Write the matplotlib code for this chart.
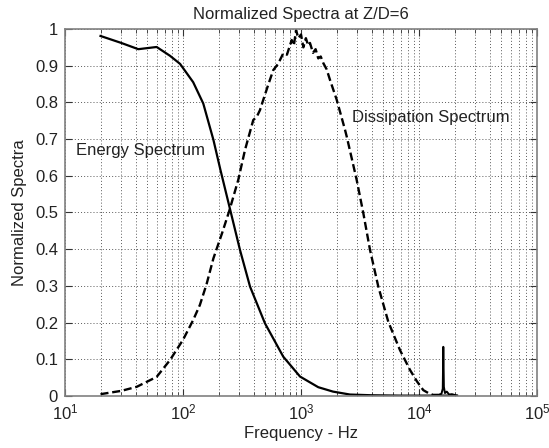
import numpy as np
import matplotlib
matplotlib.use("Agg")
import matplotlib.pyplot as plt
from matplotlib.ticker import LogLocator, FixedLocator, NullFormatter

plt.rcParams['font.family'] = ['Liberation Sans', 'DejaVu Sans']
plt.rcParams['mathtext.default'] = 'regular'

# ---- data ----
energy_f = [20, 30, 41.8, 59.8, 77.6, 94.4, 122, 148.5, 181, 208, 250, 304, 370,
            495, 708, 981, 1400, 1866, 2600, 4000, 7000, 12000, 21000]
energy_y = [0.981, 0.962, 0.945, 0.951, 0.927, 0.905, 0.855, 0.797, 0.698, 0.615,
            0.51, 0.398, 0.298, 0.198, 0.107, 0.053, 0.024, 0.012, 0.004, 0.002,
            0.001, 0.001, 0.001]

diss_f = [20, 30, 40.5, 59.8, 77.6, 100, 122, 139, 158.5, 181, 215, 247, 294, 335,
          394, 422, 449, 479, 530, 582, 640, 708, 760, 834, 870, 908, 950, 1000,
          1047, 1100, 1150, 1191, 1264, 1330, 1400, 1470, 1546, 1650, 1762, 2008,
          2362, 2440, 2963, 3375, 3845, 4520, 5495, 6900, 8390, 9600, 10870, 12000,
          13150, 14500, 15500, 15900, 16070, 16250, 16600, 17200, 18000, 19000, 21000]
diss_y = [0.005, 0.014, 0.025, 0.052, 0.098, 0.153, 0.207, 0.248, 0.305, 0.375,
          0.445, 0.505, 0.589, 0.67, 0.752, 0.761, 0.779, 0.807, 0.85, 0.888, 0.905,
          0.934, 0.93, 0.97, 0.955, 0.997, 0.975, 0.985, 0.95, 0.975, 0.955, 0.962,
          0.935, 0.945, 0.92, 0.925, 0.907, 0.89, 0.861, 0.807, 0.725, 0.707, 0.589,
          0.498, 0.398, 0.298, 0.202, 0.125, 0.071, 0.04, 0.016, 0.008, 0.003,
          0.003, 0.006, 0.02, 0.134, 0.025, 0.008, 0.012, 0.004, 0.005, 0.001]

tail_start = 14500

title = "Normalized Spectra at Z/D=6"
xlabel = "Frequency - Hz"
ylabel = "Normalized Spectra"
energy_label = "Energy Spectrum"
diss_label = "Dissipation Spectrum"
yticks = [0, 0.1, 0.2, 0.3, 0.4, 0.5, 0.6, 0.7, 0.8, 0.9, 1]
ytick_labels = ["0", "0.1", "0.2", "0.3", "0.4", "0.5", "0.6", "0.7", "0.8", "0.9", "1"]

# ---- figure ----
fig = plt.figure(figsize=(5.49, 4.48), dpi=100)
ax = fig.add_axes([65/549, 1 - 396/448, (537-65)/549, (396-29)/448])

ax.set_xscale('log')
ax.set_xlim(10, 1e5)
ax.set_ylim(0, 1)

# grid (MATLAB style dotted)
grid_kw = dict(color='0.35', linestyle=(0, (1, 2.2)), linewidth=0.7)
ax.xaxis.set_minor_locator(LogLocator(base=10, subs=np.arange(2, 10)))
ax.xaxis.set_minor_formatter(NullFormatter())
ax.grid(True, which='major', axis='both', **grid_kw)
ax.grid(True, which='minor', axis='x', **grid_kw)
ax.set_axisbelow(True)

ef = np.array(energy_f); ey = np.array(energy_y)
df = np.array(diss_f); dy = np.array(diss_y)

ax.plot(ef, ey, color='black', linewidth=1.6, solid_joinstyle='round')
main = df <= tail_start
ax.plot(df[main], dy[main], color='black', linewidth=1.7, dashes=(3.4, 1.6))
tail = df >= tail_start
ax.plot(df[tail], dy[tail], color='black', linewidth=1.4)

ax.text(12.4, 0.670, energy_label, fontsize=12, va='center', ha='left', color='#222222')
ax.text(2700, 0.760, diss_label, fontsize=12, va='center', ha='left', color='#222222')

ax.yaxis.set_major_locator(FixedLocator(yticks))
ax.set_yticklabels(ytick_labels)
ax.xaxis.set_major_locator(LogLocator(base=10, numticks=10))

ax.tick_params(axis='both', which='both', direction='in', top=True, right=True,
               labelsize=12, colors='#333333', labelcolor='#222222')
ax.tick_params(axis='both', which='major', length=5, width=0.8, pad=5)
ax.tick_params(axis='x', which='minor', length=3, width=0.6)

for s in ax.spines.values():
    s.set_color('#808080')
    s.set_linewidth(1.2)

ax.set_title(title, fontsize=12, color='#222222', pad=7)
ax.set_xlabel(xlabel, fontsize=12, color='#222222', labelpad=2)
ax.set_ylabel(ylabel, fontsize=12, color='#222222', labelpad=6)

fig.savefig("out.png", dpi=100)
